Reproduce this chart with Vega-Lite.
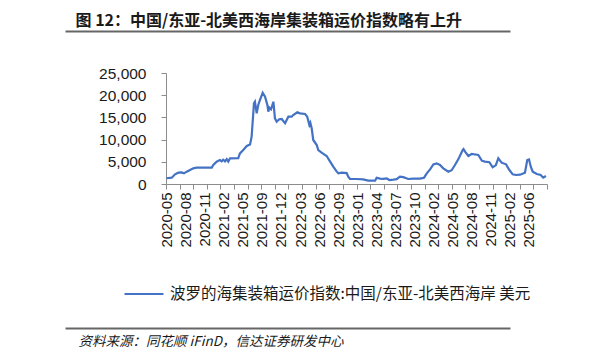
{
  "$schema": "https://vega.github.io/schema/vega-lite/v6.json",
  "width": 381,
  "height": 153,
  "autosize": {"type": "none"},
  "padding": {"left": 166, "top": 31, "right": 47, "bottom": 174},
  "config": {"view": {"stroke": null}, "axis": {"grid": false}},
  "data": {
    "values": [
      {"date": "2020-05-01", "value": 1300},
      {"date": "2020-05-27", "value": 1420},
      {"date": "2020-06-13", "value": 2180},
      {"date": "2020-06-30", "value": 2550},
      {"date": "2020-07-17", "value": 2600},
      {"date": "2020-07-29", "value": 2400},
      {"date": "2020-08-12", "value": 2780},
      {"date": "2020-08-29", "value": 3150},
      {"date": "2020-09-15", "value": 3530},
      {"date": "2020-10-02", "value": 3680},
      {"date": "2020-11-14", "value": 3700},
      {"date": "2020-12-19", "value": 3700},
      {"date": "2020-12-27", "value": 4280},
      {"date": "2021-01-13", "value": 5030},
      {"date": "2021-01-30", "value": 5400},
      {"date": "2021-02-08", "value": 5100},
      {"date": "2021-02-16", "value": 5450},
      {"date": "2021-02-25", "value": 5100},
      {"date": "2021-03-06", "value": 5600},
      {"date": "2021-03-14", "value": 5050},
      {"date": "2021-03-23", "value": 5780},
      {"date": "2021-05-04", "value": 5800},
      {"date": "2021-05-13", "value": 6900},
      {"date": "2021-05-30", "value": 7660},
      {"date": "2021-06-17", "value": 8560},
      {"date": "2021-07-04", "value": 8900},
      {"date": "2021-07-12", "value": 10650},
      {"date": "2021-07-24", "value": 18170},
      {"date": "2021-07-29", "value": 18530},
      {"date": "2021-08-07", "value": 15920},
      {"date": "2021-08-15", "value": 17790},
      {"date": "2021-08-24", "value": 18920},
      {"date": "2021-09-07", "value": 20560},
      {"date": "2021-09-19", "value": 19660},
      {"date": "2021-10-01", "value": 17790},
      {"date": "2021-10-06", "value": 16280},
      {"date": "2021-10-11", "value": 17200},
      {"date": "2021-10-20", "value": 16820},
      {"date": "2021-11-01", "value": 18530},
      {"date": "2021-11-09", "value": 14790},
      {"date": "2021-11-18", "value": 14030},
      {"date": "2021-12-01", "value": 14570},
      {"date": "2021-12-14", "value": 14640},
      {"date": "2021-12-31", "value": 13670},
      {"date": "2022-01-17", "value": 15160},
      {"date": "2022-02-03", "value": 15160},
      {"date": "2022-02-11", "value": 15540},
      {"date": "2022-03-04", "value": 16140},
      {"date": "2022-03-18", "value": 15920},
      {"date": "2022-04-13", "value": 15770},
      {"date": "2022-04-24", "value": 15160},
      {"date": "2022-05-05", "value": 13290},
      {"date": "2022-05-10", "value": 13800},
      {"date": "2022-05-17", "value": 12540},
      {"date": "2022-05-25", "value": 9910},
      {"date": "2022-06-12", "value": 8780},
      {"date": "2022-06-20", "value": 7660},
      {"date": "2022-07-07", "value": 7050},
      {"date": "2022-08-02", "value": 6310},
      {"date": "2022-08-19", "value": 5100},
      {"date": "2022-09-05", "value": 3900},
      {"date": "2022-09-23", "value": 2780},
      {"date": "2022-10-01", "value": 2400},
      {"date": "2022-10-18", "value": 2550},
      {"date": "2022-11-13", "value": 2450},
      {"date": "2022-11-21", "value": 1650},
      {"date": "2022-11-30", "value": 1130},
      {"date": "2023-01-03", "value": 1130},
      {"date": "2023-02-06", "value": 1050},
      {"date": "2023-03-04", "value": 750},
      {"date": "2023-04-08", "value": 750},
      {"date": "2023-04-16", "value": 1420},
      {"date": "2023-05-03", "value": 1200},
      {"date": "2023-05-20", "value": 1150},
      {"date": "2023-06-07", "value": 1280},
      {"date": "2023-06-20", "value": 900},
      {"date": "2023-07-11", "value": 1000},
      {"date": "2023-07-28", "value": 1100},
      {"date": "2023-08-14", "value": 1650},
      {"date": "2023-08-31", "value": 1550},
      {"date": "2023-09-26", "value": 1130},
      {"date": "2023-10-22", "value": 1200},
      {"date": "2023-11-25", "value": 1200},
      {"date": "2023-12-16", "value": 1420},
      {"date": "2023-12-30", "value": 2400},
      {"date": "2024-01-16", "value": 3300},
      {"date": "2024-02-02", "value": 4400},
      {"date": "2024-02-19", "value": 4650},
      {"date": "2024-03-07", "value": 4280},
      {"date": "2024-03-24", "value": 3530},
      {"date": "2024-04-19", "value": 2780},
      {"date": "2024-05-06", "value": 3100},
      {"date": "2024-05-23", "value": 4280},
      {"date": "2024-06-09", "value": 5550},
      {"date": "2024-07-02", "value": 7660},
      {"date": "2024-07-06", "value": 7850},
      {"date": "2024-07-14", "value": 7280},
      {"date": "2024-07-31", "value": 6310},
      {"date": "2024-08-17", "value": 6760},
      {"date": "2024-09-20", "value": 6530},
      {"date": "2024-10-08", "value": 5250},
      {"date": "2024-10-24", "value": 5030},
      {"date": "2024-11-16", "value": 4900},
      {"date": "2024-12-03", "value": 3760},
      {"date": "2024-12-19", "value": 4200},
      {"date": "2025-01-01", "value": 5780},
      {"date": "2025-01-18", "value": 4800},
      {"date": "2025-02-10", "value": 4430},
      {"date": "2025-02-27", "value": 3150},
      {"date": "2025-03-16", "value": 2180},
      {"date": "2025-04-02", "value": 2030},
      {"date": "2025-04-23", "value": 2100},
      {"date": "2025-05-18", "value": 2550},
      {"date": "2025-05-30", "value": 5400},
      {"date": "2025-06-08", "value": 5550},
      {"date": "2025-06-17", "value": 3900},
      {"date": "2025-06-27", "value": 2780},
      {"date": "2025-07-18", "value": 2250},
      {"date": "2025-08-07", "value": 2030},
      {"date": "2025-08-20", "value": 1420},
      {"date": "2025-09-03", "value": 1800}
    ]
  },
  "layer": [
    {
      "mark": {"type": "line", "strokeWidth": 2.2, "interpolate": "linear"},
      "encoding": {
        "x": {
          "field": "date",
          "type": "temporal",
          "scale": {
            "type": "utc",
            "domain": [
              {"year": 2020, "month": 4, "date": 27, "hours": 12, "utc": true},
              {"year": 2025, "month": 9, "date": 8, "hours": 12, "utc": true}
            ]
          },
          "axis": {
            "orient": "bottom",
            "title": null,
            "labelExpr": "utcFormat(datum.value, '%Y-%m')",
            "labelAngle": 270,
            "labelAlign": "right",
            "labelBaseline": "middle",
            "labelPadding": 8,
            "labelFont": "Liberation Sans",
            "labelFontSize": 15,
            "labelColor": "#1a1a1a",
            "labelOverlap": false,
            "labelFlush": false,
            "ticks": false,
            "domainColor": "#8c8c8c",
            "domainWidth": 1,
            "values": [
              {"year": 2020, "month": 5, "date": 1, "utc": true},
              {"year": 2020, "month": 8, "date": 7, "utc": true},
              {"year": 2020, "month": 11, "date": 13, "utc": true},
              {"year": 2021, "month": 2, "date": 19, "utc": true},
              {"year": 2021, "month": 5, "date": 28, "utc": true},
              {"year": 2021, "month": 9, "date": 3, "utc": true},
              {"year": 2021, "month": 12, "date": 10, "utc": true},
              {"year": 2022, "month": 3, "date": 18, "utc": true},
              {"year": 2022, "month": 6, "date": 24, "utc": true},
              {"year": 2022, "month": 9, "date": 30, "utc": true},
              {"year": 2023, "month": 1, "date": 6, "utc": true},
              {"year": 2023, "month": 4, "date": 14, "utc": true},
              {"year": 2023, "month": 7, "date": 21, "utc": true},
              {"year": 2023, "month": 10, "date": 27, "utc": true},
              {"year": 2024, "month": 2, "date": 2, "utc": true},
              {"year": 2024, "month": 5, "date": 10, "utc": true},
              {"year": 2024, "month": 8, "date": 16, "utc": true},
              {"year": 2024, "month": 11, "date": 22, "utc": true},
              {"year": 2025, "month": 2, "date": 28, "utc": true},
              {"year": 2025, "month": 6, "date": 6, "utc": true}
            ]
          }
        },
        "y": {
          "field": "value",
          "type": "quantitative",
          "scale": {"domain": [0, 25000], "nice": false, "zero": true, "range": [153, 42]},
          "axis": {
            "orient": "left",
            "title": null,
            "values": [0, 5000, 10000, 15000, 20000, 25000],
            "format": ",.0f",
            "labelFont": "Liberation Sans",
            "labelFontSize": 15.5,
            "labelColor": "#1a1a1a",
            "labelPadding": 15,
            "tickSize": 5,
            "tickColor": "#8c8c8c",
            "domainColor": "#8c8c8c",
            "labelFlush": false
          }
        },
        "color": {
          "datum": "波罗的海集装箱运价指数:中国/东亚-北美西海岸 美元",
          "scale": {"range": ["#4472C4"]},
          "legend": {
            "title": null,
            "orient": "none",
            "legendX": -43,
            "legendY": 242,
            "symbolType": "stroke",
            "symbolSize": 1521,
            "symbolStrokeWidth": 2.2,
            "labelFont": "Noto Sans CJK SC",
            "labelFontSize": 15.5,
            "labelColor": "#1a1a1a",
            "labelOffset": 5,
            "labelLimit": 600
          }
        }
      }
    },
    {
      "mark": {"type": "point", "opacity": 0},
      "encoding": {
        "x": {
          "field": "date",
          "type": "temporal",
          "scale": {
            "type": "utc",
            "domain": [
              {"year": 2020, "month": 4, "date": 27, "hours": 12, "utc": true},
              {"year": 2025, "month": 9, "date": 8, "hours": 12, "utc": true}
            ]
          },
          "axis": {
            "orient": "bottom",
            "title": null,
            "labels": false,
            "domain": false,
            "ticks": true,
            "tickSize": 5,
            "tickColor": "#8c8c8c",
            "values": [
              {"year": 2020, "month": 4, "date": 27, "hours": 12, "utc": true},
              {"year": 2020, "month": 7, "date": 6, "hours": 12, "utc": true},
              {"year": 2020, "month": 9, "date": 14, "hours": 12, "utc": true},
              {"year": 2020, "month": 11, "date": 23, "hours": 12, "utc": true},
              {"year": 2021, "month": 2, "date": 1, "hours": 12, "utc": true},
              {"year": 2021, "month": 4, "date": 12, "hours": 12, "utc": true},
              {"year": 2021, "month": 6, "date": 21, "hours": 12, "utc": true},
              {"year": 2021, "month": 8, "date": 30, "hours": 12, "utc": true},
              {"year": 2021, "month": 11, "date": 8, "hours": 12, "utc": true},
              {"year": 2022, "month": 1, "date": 17, "hours": 12, "utc": true},
              {"year": 2022, "month": 3, "date": 28, "hours": 12, "utc": true},
              {"year": 2022, "month": 6, "date": 6, "hours": 12, "utc": true},
              {"year": 2022, "month": 8, "date": 15, "hours": 12, "utc": true},
              {"year": 2022, "month": 10, "date": 24, "hours": 12, "utc": true},
              {"year": 2023, "month": 1, "date": 2, "hours": 12, "utc": true},
              {"year": 2023, "month": 3, "date": 13, "hours": 12, "utc": true},
              {"year": 2023, "month": 5, "date": 22, "hours": 12, "utc": true},
              {"year": 2023, "month": 7, "date": 31, "hours": 12, "utc": true},
              {"year": 2023, "month": 10, "date": 9, "hours": 12, "utc": true},
              {"year": 2023, "month": 12, "date": 18, "hours": 12, "utc": true},
              {"year": 2024, "month": 2, "date": 26, "hours": 12, "utc": true},
              {"year": 2024, "month": 5, "date": 6, "hours": 12, "utc": true},
              {"year": 2024, "month": 7, "date": 15, "hours": 12, "utc": true},
              {"year": 2024, "month": 9, "date": 23, "hours": 12, "utc": true},
              {"year": 2024, "month": 12, "date": 2, "hours": 12, "utc": true},
              {"year": 2025, "month": 2, "date": 10, "hours": 12, "utc": true},
              {"year": 2025, "month": 4, "date": 21, "hours": 12, "utc": true},
              {"year": 2025, "month": 6, "date": 30, "hours": 12, "utc": true},
              {"year": 2025, "month": 9, "date": 8, "hours": 12, "utc": true}
            ]
          }
        }
      }
    },
    {
      "mark": {"type": "point", "opacity": 0},
      "encoding": {
        "x": {
          "field": "date",
          "type": "temporal",
          "scale": {"type": "utc", "range": [-101, 344]},
          "axis": {
            "orient": "bottom",
            "offset": 144,
            "labels": false,
            "ticks": false,
            "domain": true,
            "domainColor": "#666666",
            "domainWidth": 2,
            "title": "资料来源：同花顺 iFinD，信达证券研发中心",
            "titleFont": "Noto Sans CJK SC",
            "titleFontSize": 13.5,
            "titleFontStyle": "italic",
            "titleFontWeight": "normal",
            "titleColor": "#1a1a1a",
            "titleAlign": "left",
            "titleX": -88,
            "titleY": 17,
            "titleBaseline": "alphabetic",
            "titleAngle": 0
          }
        }
      }
    },
    {
      "mark": {"type": "point", "opacity": 0},
      "encoding": {
        "x": {
          "field": "date",
          "type": "temporal",
          "scale": {"type": "utc", "range": [-101, 344]},
          "axis": {
            "orient": "top",
            "offset": 0,
            "labels": false,
            "ticks": false,
            "domain": true,
            "domainColor": "#666666",
            "domainWidth": 2,
            "title": "图 12：中国/东亚-北美西海岸集装箱运价指数略有上升",
            "titleFont": "Noto Sans CJK SC",
            "titleFontSize": 16,
            "titleFontWeight": "bold",
            "titleColor": "#1a1a1a",
            "titleAlign": "left",
            "titleX": -91,
            "titleY": -6,
            "titleBaseline": "alphabetic",
            "titleAngle": 0
          }
        }
      }
    }
  ],
  "resolve": {"scale": {"x": "independent"}}
}
